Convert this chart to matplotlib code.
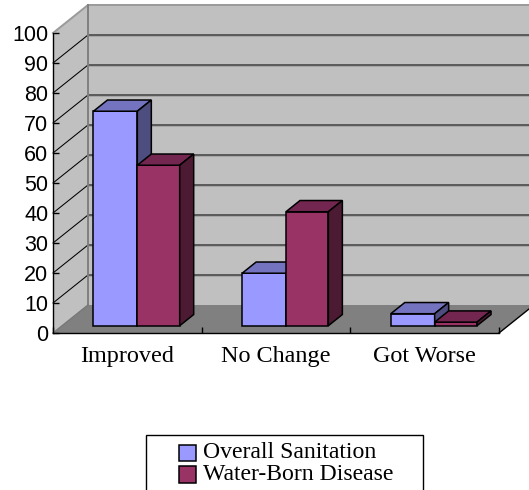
import matplotlib
matplotlib.use("Agg")
import matplotlib.pyplot as plt
from matplotlib.legend_handler import HandlerPatch
from matplotlib.patches import Polygon, Patch, Rectangle

categories = ["Improved", "No Change", "Got Worse"]
overall = [71.5, 17.5, 4]
water = [53.5, 38, 1.2]
y_ticks = list(range(0, 101, 10))

W, H = 529, 490
DX = 35 / 148.67   # depth shift, x data units
DY = 28 / 3        # depth shift, y data units

fig = plt.figure(figsize=(W / 100, H / 100), dpi=100)
ax = fig.add_axes([53 / W, 1 - 333 / H, 446 / W, 300 / H])
ax.set_xlim(0, 3)
ax.set_ylim(0, 100)
ax.patch.set_visible(False)


def pr(x, y, d):
    # front plane -> point at depth d
    return (x + d * DX, y + d * DY)


def poly(points, color, edge="none", lw=0, z=1):
    ax.add_patch(Polygon(points, closed=True, facecolor=color, edgecolor=edge,
                         linewidth=lw, zorder=z, clip_on=False, joinstyle="miter"))


# walls and floor
poly([pr(0, 0, 0), pr(0, 0, 1), pr(0, 100, 1), pr(0, 100, 0)], "#C0C0C0")
poly([pr(0, 0, 1), pr(3, 0, 1), pr(3, 100, 1), pr(0, 100, 1)], "#C0C0C0")
poly([pr(0, 0, 0), pr(3, 0, 0), pr(3, 0, 1), pr(0, 0, 1)], "#808080")

# gridlines
for v in y_ticks[1:-1]:
    a, b, c = pr(0, v, 0), pr(0, v, 1), pr(3, v, 1)
    ax.plot([b[0], c[0]], [b[1] - 0.33, c[1] - 0.33], color="#a6a6a6", lw=0.7, zorder=2, clip_on=False)
    ax.plot([a[0], b[0], c[0]], [a[1], b[1], c[1]], color="black", lw=0.75, zorder=2, clip_on=False)

# wall edges
a, b, c = pr(0, 100, 0), pr(0, 100, 1), pr(3, 100, 1)
ax.plot([a[0], b[0], c[0]], [a[1], b[1], c[1]], color="#9a9a9a", lw=1.4, zorder=2, clip_on=False)
b0 = pr(0, 0, 1)
ax.plot([b[0], b0[0]], [b[1], b0[1]], color="#808080", lw=1.4, zorder=2, clip_on=False)
ax.plot([0, b0[0]], [0, b0[1]], color="#777777", lw=1.0, zorder=2, clip_on=False)
r0, r1 = pr(3, 0, 0), pr(3, 0, 1)
ax.plot([r0[0], r1[0]], [r0[1], r1[1]], color="black", lw=1.0, zorder=2, clip_on=False)


def bar3d(x0, x1, h, front, top, side, z):
    d0, d1 = 0.26, 0.66
    poly([pr(x0, 0, d0), pr(x1, 0, d0), pr(x1, h, d0), pr(x0, h, d0)], front, "black", 1.1, z)
    poly([pr(x0, h, d0), pr(x1, h, d0), pr(x1, h, d1), pr(x0, h, d1)], top, "black", 1.1, z)
    poly([pr(x1, 0, d0), pr(x1, 0, d1), pr(x1, h, d1), pr(x1, h, d0)], side, "black", 1.1, z)


for i in range(len(categories)):
    c = i + 0.5 + 0.006
    bar3d(c - 0.295, c, overall[i], "#9999FF", "#7373BF", "#4D4D80", 3 + i)
    bar3d(c, c + 0.285, water[i], "#993366", "#732650", "#4D1A33", 3 + i)

# axes
for s in ["top", "right"]:
    ax.spines[s].set_visible(False)
for s in ["left", "bottom"]:
    ax.spines[s].set_linewidth(1.0)
    ax.spines[s].set_zorder(10)

ax.set_yticks(y_ticks)
ax.set_yticklabels([str(v) for v in y_ticks], family="Liberation Sans", fontsize=15.5)
ax.tick_params(axis="y", direction="in", length=4.5, width=1, pad=3.5)
ax.set_xticks([0, 1, 2, 3])
ax.set_xticklabels([])
ax.tick_params(axis="x", direction="in", length=4.5, width=1)
ax.set_xticks([0.5, 1.5, 2.5], minor=True)
ax.set_xticklabels(categories, minor=True, family="Liberation Serif", fontsize=17.4)
ax.tick_params(axis="x", which="minor", length=0, pad=9)


def swatch(legend, orig_handle, xdescent, ydescent, width, height, fontsize):
    # swatches sit lower than the text in the original
    return Rectangle((-xdescent, -ydescent - 2.6), width, height)


# legend, frame runs past the bottom of the image
fig.add_artist(Rectangle((146 / W, -0.02), 277 / W, 1 - 435 / H + 0.02, transform=fig.transFigure,
                         facecolor="white", edgecolor="black", linewidth=1.0))
handles = [Patch(facecolor="#9999FF", edgecolor="black", linewidth=1.1, label="Overall Sanitation"),
           Patch(facecolor="#993366", edgecolor="black", linewidth=1.1, label="Water-Born Disease")]
fig.legend(handles=handles, loc="upper left", bbox_to_anchor=(174.5 / W, 1 - 436.5 / H), frameon=False,
           prop={"family": "Liberation Serif", "size": 17.1}, handlelength=0.7, handleheight=0.7,
           handletextpad=0.31, labelspacing=0.0, borderpad=0.2, borderaxespad=0,
           handler_map={Patch: HandlerPatch(patch_func=swatch)})

fig.savefig("out.png", dpi=100)
